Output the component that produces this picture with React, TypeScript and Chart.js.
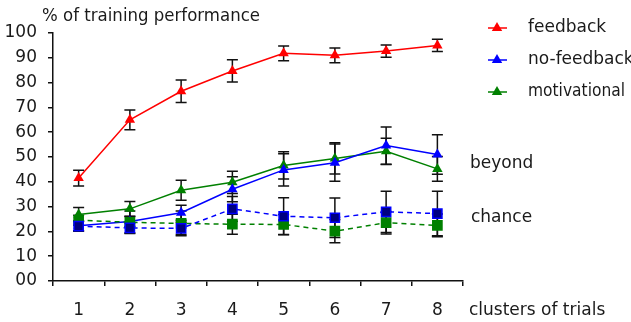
import React, { useEffect, useRef } from "react";
import { Chart, registerables } from "chart.js";
Chart.register(...registerables);

const categories = ["1", "2", "3", "4", "5", "6", "7", "8"];
const yTickLabels = ["00", "10", "20", "30", "40", "50", "60", "70", "80", "90", "100"];

const feedback = [41.5, 65, 76.5, 84.7, 91.8, 91, 92.7, 95];
const feedbackErr = [3.2, 4, 4.5, 4.5, 3, 3, 2.5, 2.5];
const noFeedbackBeyond = [22.3, 24, 27.5, 37, 44.8, 47.7, 54.6, 51];
const noFeedbackBeyondErr = [2, 2, 3, 5, 6.5, 7.5, 7.5, 8];
const motivationalBeyond = [26.8, 29.1, 36.6, 39.8, 46.6, 49.4, 52.3, 45.2];
const motivationalBeyondErr = [2.8, 3, 4, 4.5, 5.5, 6.3, 5.3, 5];
const noFeedbackChance = [22.1, 21.4, 21.2, 29.1, 26.1, 25.5, 27.9, 27.2];
const noFeedbackChanceErr = [2, 2, 2.5, 5, 7.5, 8, 8.3, 9];
const motivationalChance = [24.5, 23.7, 23.2, 22.9, 22.8, 20.1, 23.5, 22.4];
const motivationalChanceErr = [2, 4.5, 5, 4, 4, 4.7, 4.5, 4.6];

const legendItems = [
  { label: "feedback", color: "#ff0000", maxW: 80 },
  { label: "no-feedback", color: "#0000ff", maxW: 110 },
  { label: "motivational", color: "#008000", maxW: 97 },
];

const FONT = '17px "DejaVu Sans"';
const TEXT_COLOR = "#1a1a1a";

const errorBarPlugin = {
  id: "errorBars",
  beforeDatasetsDraw(chart: any) {
    const ctx = chart.ctx;
    const ys = chart.scales.y;
    ctx.save();
    ctx.strokeStyle = "#111";
    ctx.lineWidth = 1.5;
    chart.data.datasets.forEach((ds: any, i: number) => {
      const meta = chart.getDatasetMeta(i);
      const errs: number[] = ds.errors || [];
      meta.data.forEach((pt: any, j: number) => {
        const v = ds.data[j];
        const e = errs[j];
        if (v == null || e == null) return;
        const x = pt.x;
        const yt = ys.getPixelForValue(v + e);
        const yb = ys.getPixelForValue(v - e);
        ctx.beginPath();
        ctx.moveTo(x, yt);
        ctx.lineTo(x, yb);
        ctx.moveTo(x - 5.5, yt);
        ctx.lineTo(x + 5.5, yt);
        ctx.moveTo(x - 5.5, yb);
        ctx.lineTo(x + 5.5, yb);
        ctx.stroke();
      });
    });
    ctx.restore();
  },
};

const textPlugin = {
  id: "extraText",
  afterDraw(chart: any) {
    const ctx = chart.ctx;
    ctx.save();
    ctx.font = FONT;
    ctx.fillStyle = TEXT_COLOR;
    ctx.textBaseline = "middle";
    ctx.textAlign = "left";
    ctx.fillText("% of training performance", 42, 17, 218);
    ctx.fillText("beyond", 470, 164);
    ctx.fillText("chance", 471, 218);
    ctx.fillText("clusters of trials", 469, 311);
    legendItems.forEach((it, k) => {
      const y = 28 + k * 32;
      ctx.strokeStyle = it.color;
      ctx.lineWidth = 1.5;
      ctx.beginPath();
      ctx.moveTo(488, y);
      ctx.lineTo(507, y);
      ctx.stroke();
      ctx.fillStyle = it.color;
      const r = 6;
      ctx.beginPath();
      ctx.moveTo(497, y - r);
      ctx.lineTo(497 + r * 0.866, y + r * 0.5);
      ctx.lineTo(497 - r * 0.866, y + r * 0.5);
      ctx.closePath();
      ctx.fill();
      ctx.fillStyle = TEXT_COLOR;
      ctx.fillText(it.label, 528, y, it.maxW);
    });
    ctx.restore();
  },
};

export default function App() {
  const ref = useRef<HTMLCanvasElement | null>(null);
  useEffect(() => {
    if (!ref.current) return;
    const lineDs = (label: string, data: number[], errors: number[], color: string, style: string, fill: string, dashed: boolean) => ({
      label,
      data,
      errors,
      borderColor: color,
      backgroundColor: fill,
      pointBackgroundColor: fill,
      pointBorderColor: color,
      pointStyle: style,
      pointRadius: style === "rect" ? 6.5 : 6,
      pointBorderWidth: style === "rect" ? 1.5 : 0,
      borderWidth: 1.5,
      borderDash: dashed ? [5, 4] : [],
      tension: 0,
      fill: false,
      clip: false,
    });
    const chart = new Chart(ref.current, {
      type: "line",
      data: {
        labels: categories,
        datasets: [
          lineDs("no-feedback chance", noFeedbackChance, noFeedbackChanceErr, "#0000ff", "rect", "#000080", true),
          lineDs("motivational chance", motivationalChance, motivationalChanceErr, "#008000", "rect", "#008000", true),
          lineDs("no-feedback", noFeedbackBeyond, noFeedbackBeyondErr, "#0000ff", "triangle", "#0000ff", false),
          lineDs("motivational", motivationalBeyond, motivationalBeyondErr, "#008000", "triangle", "#008000", false),
          lineDs("feedback", feedback, feedbackErr, "#ff0000", "triangle", "#ff0000", false),
        ] as any,
      },
      options: {
        responsive: false,
        animation: false,
        layout: { padding: { left: 0, top: 33, right: 168, bottom: 0 } },
        plugins: { legend: { display: false }, tooltip: { enabled: false } },
        scales: {
          x: {
            type: "category",
            offset: true,
            grid: { offset: true, drawOnChartArea: false, drawTicks: true, tickLength: 5, color: "#111", lineWidth: 1.5 },
            border: { color: "#111", width: 1.5 },
            ticks: { color: TEXT_COLOR, font: { family: "DejaVu Sans", size: 17 }, padding: 14, maxRotation: 0 },
            afterFit: (s: any) => { s.height = 41; },
          },
          y: {
            min: 0,
            max: 100,
            grid: { drawOnChartArea: false, drawTicks: true, tickLength: 5, color: "#111", lineWidth: 1.5 },
            border: { color: "#111", width: 1.5 },
            ticks: {
              stepSize: 10,
              color: TEXT_COLOR,
              font: { family: "DejaVu Sans", size: 17 },
              padding: 11,
              callback: (v: any) => yTickLabels[Math.round(Number(v) / 10)],
            },
            afterFit: (s: any) => { s.width = 53; },
          },
        },
      },
      plugins: [errorBarPlugin, textPlugin],
    });
    return () => chart.destroy();
  }, []);
  return (
    <div style={{ position: "fixed", left: 0, top: 0, width: 631, height: 322, background: "#fff" }}>
      <canvas ref={ref} width={631} height={322} />
    </div>
  );
}
